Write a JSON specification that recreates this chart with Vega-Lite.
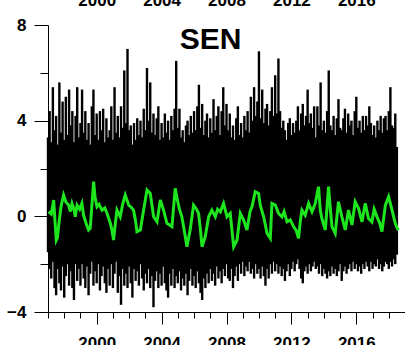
{
  "$schema": "https://vega.github.io/schema/vega-lite/v6.json",
  "width": 357,
  "height": 287,
  "autosize": {"type": "none"},
  "padding": {"left": 48, "top": 25, "right": 0, "bottom": 33},
  "background": "white",
  "config": {
    "view": {"stroke": null},
    "font": "Liberation Sans",
    "axis": {
      "labelFont": "Liberation Sans",
      "labelFontSize": 17,
      "labelFontWeight": "bold",
      "labelColor": "black",
      "domain": true,
      "ticks": true,
      "domainColor": "black",
      "domainWidth": 1,
      "tickColor": "black",
      "tickWidth": 1,
      "grid": false,
      "title": null,
      "labelOverlap": false,
      "labelFlush": false,
      "labelBound": false,
      "zindex": 1
    }
  },
  "title": {
    "text": "SEN",
    "font": "Liberation Sans",
    "fontSize": 30,
    "fontWeight": "bold",
    "color": "black",
    "anchor": "middle",
    "frame": "group",
    "dx": -16,
    "offset": -64
  },
  "datasets": {
    "daily": [
      {"t":1997.0,"hi":3.3,"lo":-1.5},{"t":1997.1,"hi":4.4,"lo":-2.2},{"t":1997.2,"hi":3.1,"lo":-2.6},{"t":1997.3,"hi":5.4,"lo":-1.9},
      {"t":1997.4,"hi":3.6,"lo":-3.0},{"t":1997.5,"hi":4.2,"lo":-3.3},{"t":1997.6,"hi":3.0,"lo":-2.2},{"t":1997.7,"hi":5.6,"lo":-2.8},
      {"t":1997.8,"hi":3.5,"lo":-3.1},{"t":1997.9,"hi":4.8,"lo":-2.1},{"t":1998.0,"hi":3.2,"lo":-3.4},{"t":1998.1,"hi":5.0,"lo":-2.5},
      {"t":1998.2,"hi":3.4,"lo":-2.0},{"t":1998.3,"hi":5.3,"lo":-2.9},{"t":1998.4,"hi":3.8,"lo":-2.3},{"t":1998.5,"hi":4.4,"lo":-3.0},
      {"t":1998.6,"hi":3.1,"lo":-3.5},{"t":1998.7,"hi":4.2,"lo":-2.0},{"t":1998.8,"hi":5.4,"lo":-2.7},{"t":1998.9,"hi":3.3,"lo":-2.2},
      {"t":1999.0,"hi":3.9,"lo":-2.9},{"t":1999.1,"hi":5.3,"lo":-2.0},{"t":1999.2,"hi":3.5,"lo":-2.6},{"t":1999.3,"hi":4.4,"lo":-3.0},
      {"t":1999.4,"hi":3.2,"lo":-2.1},{"t":1999.5,"hi":3.9,"lo":-3.3},{"t":1999.6,"hi":3.0,"lo":-2.4},{"t":1999.7,"hi":4.6,"lo":-1.9},
      {"t":1999.8,"hi":5.3,"lo":-2.9},{"t":1999.9,"hi":3.4,"lo":-2.3},{"t":2000.0,"hi":4.3,"lo":-2.8},{"t":2000.1,"hi":3.2,"lo":-2.0},
      {"t":2000.2,"hi":4.4,"lo":-3.1},{"t":2000.3,"hi":3.6,"lo":-2.5},{"t":2000.4,"hi":4.5,"lo":-2.1},{"t":2000.5,"hi":3.1,"lo":-2.8},
      {"t":2000.6,"hi":4.1,"lo":-3.2},{"t":2000.7,"hi":3.3,"lo":-2.2},{"t":2000.8,"hi":3.6,"lo":-2.9},{"t":2000.9,"hi":4.6,"lo":-2.0},
      {"t":2001.0,"hi":3.2,"lo":-3.0},{"t":2001.1,"hi":5.4,"lo":-2.4},{"t":2001.2,"hi":3.5,"lo":-1.9},{"t":2001.3,"hi":4.2,"lo":-3.2},
      {"t":2001.4,"hi":3.3,"lo":-2.5},{"t":2001.5,"hi":4.6,"lo":-3.7},{"t":2001.6,"hi":3.7,"lo":-2.2},{"t":2001.7,"hi":6.1,"lo":-2.9},
      {"t":2001.8,"hi":3.9,"lo":-2.4},{"t":2001.9,"hi":7.0,"lo":-3.0},{"t":2002.0,"hi":3.6,"lo":-2.1},{"t":2002.1,"hi":3.8,"lo":-2.8},
      {"t":2002.2,"hi":3.0,"lo":-3.4},{"t":2002.3,"hi":3.9,"lo":-2.2},{"t":2002.4,"hi":3.2,"lo":-2.7},{"t":2002.5,"hi":4.1,"lo":-2.3},
      {"t":2002.6,"hi":3.4,"lo":-2.9},{"t":2002.7,"hi":4.0,"lo":-2.0},{"t":2002.8,"hi":3.3,"lo":-2.6},{"t":2002.9,"hi":4.5,"lo":-3.1},
      {"t":2003.0,"hi":3.6,"lo":-2.4},{"t":2003.1,"hi":6.2,"lo":-2.8},{"t":2003.2,"hi":4.0,"lo":-2.2},{"t":2003.3,"hi":5.6,"lo":-3.0},
      {"t":2003.4,"hi":3.5,"lo":-2.5},{"t":2003.5,"hi":4.3,"lo":-3.8},{"t":2003.6,"hi":3.4,"lo":-2.7},{"t":2003.7,"hi":4.1,"lo":-2.3},
      {"t":2003.8,"hi":4.6,"lo":-3.0},{"t":2003.9,"hi":3.2,"lo":-2.4},{"t":2004.0,"hi":3.9,"lo":-2.9},{"t":2004.1,"hi":3.3,"lo":-2.1},
      {"t":2004.2,"hi":4.3,"lo":-2.8},{"t":2004.3,"hi":3.5,"lo":-3.1},{"t":2004.4,"hi":4.0,"lo":-3.4},{"t":2004.5,"hi":3.2,"lo":-2.4},
      {"t":2004.6,"hi":4.2,"lo":-2.9},{"t":2004.7,"hi":3.6,"lo":-2.2},{"t":2004.8,"hi":4.5,"lo":-3.0},{"t":2004.9,"hi":6.5,"lo":-2.5},
      {"t":2005.0,"hi":3.7,"lo":-2.8},{"t":2005.1,"hi":4.5,"lo":-2.3},{"t":2005.2,"hi":3.3,"lo":-3.1},{"t":2005.3,"hi":3.6,"lo":-2.6},
      {"t":2005.4,"hi":3.1,"lo":-2.9},{"t":2005.5,"hi":3.8,"lo":-2.4},{"t":2005.6,"hi":4.0,"lo":-3.3},{"t":2005.7,"hi":3.4,"lo":-2.7},
      {"t":2005.8,"hi":4.2,"lo":-2.2},{"t":2005.9,"hi":3.5,"lo":-2.9},{"t":2006.0,"hi":4.4,"lo":-2.5},{"t":2006.1,"hi":3.6,"lo":-3.0},
      {"t":2006.2,"hi":4.6,"lo":-2.3},{"t":2006.3,"hi":5.5,"lo":-2.8},{"t":2006.4,"hi":3.7,"lo":-3.2},{"t":2006.5,"hi":4.7,"lo":-3.5},
      {"t":2006.6,"hi":3.4,"lo":-2.6},{"t":2006.7,"hi":4.0,"lo":-3.0},{"t":2006.8,"hi":4.3,"lo":-2.4},{"t":2006.9,"hi":3.3,"lo":-2.8},
      {"t":2007.0,"hi":4.1,"lo":-2.2},{"t":2007.1,"hi":3.5,"lo":-2.7},{"t":2007.2,"hi":4.9,"lo":-2.4},{"t":2007.3,"hi":3.6,"lo":-2.9},
      {"t":2007.4,"hi":4.2,"lo":-2.1},{"t":2007.5,"hi":4.6,"lo":-2.6},{"t":2007.6,"hi":3.4,"lo":-2.3},{"t":2007.7,"hi":4.4,"lo":-2.8},
      {"t":2007.8,"hi":5.4,"lo":-2.2},{"t":2007.9,"hi":3.8,"lo":-2.5},{"t":2008.0,"hi":4.7,"lo":-2.0},{"t":2008.1,"hi":3.6,"lo":-2.6},
      {"t":2008.2,"hi":4.3,"lo":-2.7},{"t":2008.3,"hi":3.3,"lo":-2.2},{"t":2008.4,"hi":3.8,"lo":-3.0},{"t":2008.5,"hi":3.2,"lo":-2.5},
      {"t":2008.6,"hi":4.1,"lo":-2.1},{"t":2008.7,"hi":4.6,"lo":-2.7},{"t":2008.8,"hi":3.4,"lo":-2.0},{"t":2008.9,"hi":3.9,"lo":-2.4},
      {"t":2009.0,"hi":3.3,"lo":-1.9},{"t":2009.1,"hi":4.2,"lo":-2.5},{"t":2009.2,"hi":3.6,"lo":-2.1},{"t":2009.3,"hi":4.4,"lo":-2.3},
      {"t":2009.4,"hi":3.5,"lo":-1.9},{"t":2009.5,"hi":5.0,"lo":-2.4},{"t":2009.6,"hi":4.0,"lo":-2.2},{"t":2009.7,"hi":5.4,"lo":-2.6},
      {"t":2009.8,"hi":4.2,"lo":-2.0},{"t":2009.9,"hi":4.8,"lo":-2.4},{"t":2010.0,"hi":6.9,"lo":-2.2},{"t":2010.1,"hi":4.1,"lo":-2.6},
      {"t":2010.2,"hi":5.3,"lo":-2.1},{"t":2010.3,"hi":3.9,"lo":-2.5},{"t":2010.4,"hi":4.5,"lo":-2.9},{"t":2010.5,"hi":4.7,"lo":-2.2},
      {"t":2010.6,"hi":3.8,"lo":-2.6},{"t":2010.7,"hi":4.4,"lo":-2.0},{"t":2010.8,"hi":5.4,"lo":-2.4},{"t":2010.9,"hi":4.2,"lo":-1.9},
      {"t":2011.0,"hi":5.9,"lo":-2.3},{"t":2011.1,"hi":4.3,"lo":-2.0},{"t":2011.2,"hi":6.6,"lo":-2.4},{"t":2011.3,"hi":4.4,"lo":-2.1},
      {"t":2011.4,"hi":3.7,"lo":-2.5},{"t":2011.5,"hi":4.0,"lo":-2.2},{"t":2011.6,"hi":3.6,"lo":-2.7},{"t":2011.7,"hi":3.2,"lo":-2.3},
      {"t":2011.8,"hi":3.9,"lo":-2.0},{"t":2011.9,"hi":4.1,"lo":-2.5},{"t":2012.0,"hi":3.4,"lo":-2.2},{"t":2012.1,"hi":3.9,"lo":-1.9},
      {"t":2012.2,"hi":3.5,"lo":-2.3},{"t":2012.3,"hi":4.0,"lo":-2.0},{"t":2012.4,"hi":4.6,"lo":-1.8},{"t":2012.5,"hi":3.6,"lo":-2.2},
      {"t":2012.6,"hi":4.3,"lo":-2.6},{"t":2012.7,"hi":4.7,"lo":-2.8},{"t":2012.8,"hi":3.8,"lo":-2.3},{"t":2012.9,"hi":4.2,"lo":-2.1},
      {"t":2013.0,"hi":5.3,"lo":-2.4},{"t":2013.1,"hi":3.9,"lo":-2.0},{"t":2013.2,"hi":4.3,"lo":-2.3},{"t":2013.3,"hi":3.7,"lo":-2.1},
      {"t":2013.4,"hi":4.6,"lo":-1.9},{"t":2013.5,"hi":3.3,"lo":-2.2},{"t":2013.6,"hi":4.6,"lo":-2.1},{"t":2013.7,"hi":3.8,"lo":-2.4},
      {"t":2013.8,"hi":5.6,"lo":-2.0},{"t":2013.9,"hi":3.6,"lo":-2.5},{"t":2014.0,"hi":4.0,"lo":-2.2},{"t":2014.1,"hi":3.5,"lo":-2.4},
      {"t":2014.2,"hi":4.4,"lo":-2.6},{"t":2014.3,"hi":6.1,"lo":-2.3},{"t":2014.4,"hi":3.8,"lo":-2.5},{"t":2014.5,"hi":3.6,"lo":-2.1},
      {"t":2014.6,"hi":4.2,"lo":-2.4},{"t":2014.7,"hi":3.4,"lo":-2.2},{"t":2014.8,"hi":4.1,"lo":-2.5},{"t":2014.9,"hi":4.9,"lo":-2.3},
      {"t":2015.0,"hi":3.7,"lo":-2.0},{"t":2015.1,"hi":3.6,"lo":-2.7},{"t":2015.2,"hi":4.1,"lo":-2.3},{"t":2015.3,"hi":4.5,"lo":-2.1},
      {"t":2015.4,"hi":3.5,"lo":-2.4},{"t":2015.5,"hi":4.3,"lo":-2.2},{"t":2015.6,"hi":3.8,"lo":-2.0},{"t":2015.7,"hi":4.0,"lo":-2.3},
      {"t":2015.8,"hi":3.4,"lo":-1.9},{"t":2015.9,"hi":4.4,"lo":-2.2},{"t":2016.0,"hi":5.0,"lo":-2.0},{"t":2016.1,"hi":3.7,"lo":-2.3},
      {"t":2016.2,"hi":4.0,"lo":-2.1},{"t":2016.3,"hi":3.5,"lo":-2.4},{"t":2016.4,"hi":4.2,"lo":-2.0},{"t":2016.5,"hi":3.6,"lo":-2.2},
      {"t":2016.6,"hi":4.2,"lo":-1.9},{"t":2016.7,"hi":3.8,"lo":-2.1},{"t":2016.8,"hi":4.6,"lo":-2.3},{"t":2016.9,"hi":3.9,"lo":-1.9},
      {"t":2017.0,"hi":3.4,"lo":-2.2},{"t":2017.1,"hi":3.8,"lo":-2.0},{"t":2017.2,"hi":3.3,"lo":-2.1},{"t":2017.3,"hi":4.0,"lo":-1.8},
      {"t":2017.4,"hi":3.6,"lo":-2.2},{"t":2017.5,"hi":4.2,"lo":-2.0},{"t":2017.6,"hi":3.5,"lo":-2.3},{"t":2017.7,"hi":4.1,"lo":-2.1},
      {"t":2017.8,"hi":4.2,"lo":-1.9},{"t":2017.9,"hi":3.6,"lo":-2.0},{"t":2018.0,"hi":4.4,"lo":-2.2},{"t":2018.1,"hi":5.4,"lo":-1.9},
      {"t":2018.2,"hi":3.8,"lo":-2.1},{"t":2018.3,"hi":3.7,"lo":-1.8},{"t":2018.4,"hi":4.3,"lo":-2.0},{"t":2018.5,"hi":2.9,"lo":-1.6}
    ],
    "smooth": [
      {"t":1997.04,"v":0.2},{"t":1997.2,"v":0.1},{"t":1997.35,"v":0.68},{"t":1997.45,"v":-0.4},{"t":1997.51,"v":-1.0},
      {"t":1997.58,"v":-0.9},{"t":1997.65,"v":-0.43},{"t":1997.8,"v":0.4},{"t":1997.96,"v":0.89},{"t":1998.1,"v":0.6},
      {"t":1998.27,"v":0.47},{"t":1998.38,"v":0.2},{"t":1998.48,"v":0.54},{"t":1998.6,"v":0.3},{"t":1998.68,"v":-0.02},
      {"t":1998.79,"v":0.47},{"t":1998.95,"v":0.3},{"t":1999.09,"v":0.54},{"t":1999.19,"v":0.05},{"t":1999.35,"v":-0.3},
      {"t":1999.5,"v":-0.57},{"t":1999.6,"v":-0.5},{"t":1999.7,"v":0.4},{"t":1999.81,"v":1.45},{"t":1999.9,"v":0.8},
      {"t":2000.02,"v":0.4},{"t":2000.15,"v":0.5},{"t":2000.33,"v":0.26},{"t":2000.5,"v":0.35},{"t":2000.64,"v":0.12},
      {"t":2000.84,"v":-0.29},{"t":2000.95,"v":-0.6},{"t":2001.04,"v":-0.99},{"t":2001.15,"v":-0.3},{"t":2001.25,"v":0.26},
      {"t":2001.45,"v":-0.02},{"t":2001.6,"v":0.5},{"t":2001.76,"v":0.89},{"t":2001.97,"v":0.47},{"t":2002.1,"v":0.4},
      {"t":2002.27,"v":0.26},{"t":2002.4,"v":-0.2},{"t":2002.48,"v":-0.64},{"t":2002.69,"v":-0.57},{"t":2002.9,"v":0.3},
      {"t":2003.1,"v":1.1},{"t":2003.3,"v":0.96},{"t":2003.51,"v":-0.02},{"t":2003.72,"v":-0.23},{"t":2003.92,"v":0.68},
      {"t":2004.12,"v":0.26},{"t":2004.33,"v":-0.29},{"t":2004.64,"v":-0.43},{"t":2004.84,"v":1.17},{"t":2004.95,"v":0.75},
      {"t":2005.1,"v":0.3},{"t":2005.25,"v":-0.02},{"t":2005.45,"v":-0.8},{"t":2005.56,"v":-1.27},{"t":2005.76,"v":-0.57},
      {"t":2005.97,"v":0.47},{"t":2006.15,"v":0.3},{"t":2006.28,"v":0.12},{"t":2006.4,"v":-0.6},{"t":2006.49,"v":-1.27},
      {"t":2006.69,"v":-0.85},{"t":2006.9,"v":-0.02},{"t":2007.1,"v":0.26},{"t":2007.31,"v":-0.02},{"t":2007.45,"v":0.3},
      {"t":2007.62,"v":0.19},{"t":2007.82,"v":0.54},{"t":2008.03,"v":-0.02},{"t":2008.23,"v":0.12},{"t":2008.44,"v":-1.27},
      {"t":2008.65,"v":-0.99},{"t":2008.85,"v":0.12},{"t":2009.05,"v":-0.15},{"t":2009.26,"v":-0.57},{"t":2009.45,"v":0.2},
      {"t":2009.57,"v":0.4},{"t":2009.77,"v":1.03},{"t":2009.98,"v":0.96},{"t":2010.08,"v":0.47},{"t":2010.29,"v":-0.02},
      {"t":2010.5,"v":-0.71},{"t":2010.7,"v":-0.92},{"t":2010.8,"v":0.54},{"t":2011.01,"v":0.47},{"t":2011.21,"v":0.12},
      {"t":2011.42,"v":-0.02},{"t":2011.55,"v":0.2},{"t":2011.73,"v":-0.23},{"t":2011.93,"v":-0.15},{"t":2012.13,"v":-0.43},
      {"t":2012.3,"v":-0.6},{"t":2012.44,"v":-0.92},{"t":2012.55,"v":-0.2},{"t":2012.65,"v":0.26},{"t":2012.85,"v":0.05},
      {"t":2013.06,"v":0.54},{"t":2013.27,"v":0.19},{"t":2013.47,"v":0.54},{"t":2013.67,"v":1.24},{"t":2013.78,"v":0.26},
      {"t":2013.88,"v":-0.1},{"t":2014.09,"v":-0.57},{"t":2014.29,"v":1.24},{"t":2014.4,"v":0.3},{"t":2014.5,"v":-0.43},
      {"t":2014.7,"v":-0.71},{"t":2014.9,"v":0.61},{"t":2015.11,"v":-0.02},{"t":2015.32,"v":-0.57},{"t":2015.52,"v":0.26},
      {"t":2015.73,"v":-0.36},{"t":2015.93,"v":0.61},{"t":2016.14,"v":0.33},{"t":2016.35,"v":-0.23},{"t":2016.55,"v":0.54},
      {"t":2016.75,"v":-0.09},{"t":2016.96,"v":-0.23},{"t":2017.1,"v":0.3},{"t":2017.27,"v":-0.02},{"t":2017.45,"v":-0.3},
      {"t":2017.58,"v":-0.64},{"t":2017.79,"v":0.47},{"t":2017.99,"v":0.82},{"t":2018.2,"v":0.26},{"t":2018.4,"v":-0.29},
      {"t":2018.52,"v":-0.5},{"t":2018.61,"v":-0.57}
    ]
  },
  "layer": [
    {
      "data": {"name": "daily"},
      "mark": {"type": "rule", "color": "black", "strokeWidth": 2.4},
      "encoding": {
        "x": {
          "field": "t",
          "type": "quantitative",
          "scale": {"domain": [1997, 2019], "nice": false, "zero": false},
          "axis": {
            "orient": "bottom",
            "values": [1997,1998,1999,2000,2001,2002,2003,2004,2005,2006,2007,2008,2009,2010,2011,2012,2013,2014,2015,2016,2017,2018,2019],
            "format": "d",
            "labelExpr": "datum.value % 4 === 0 ? datum.label : ''",
            "tickSize": {"condition": {"test": "datum.value % 4 === 0", "value": 12}, "value": 6},
            "labelPadding": 11
          }
        },
        "y": {
          "field": "lo",
          "type": "quantitative",
          "scale": {"domain": [-4, 8], "nice": false, "zero": false},
          "axis": {
            "orient": "left",
            "values": [-4, 0, 4, 8],
            "tickSize": 14,
            "labelPadding": 8
          }
        },
        "y2": {"field": "hi"}
      }
    },
    {
      "data": {"name": "smooth"},
      "mark": {"type": "line", "color": "#1ee61e", "strokeWidth": 3},
      "encoding": {
        "x": {
          "field": "t",
          "type": "quantitative",
          "axis": {
            "orient": "top",
            "values": [2000, 2004, 2008, 2012, 2016],
            "format": "d",
            "domain": false,
            "ticks": false,
            "labelPadding": 16
          }
        },
        "y": {
          "field": "v",
          "type": "quantitative",
          "axis": {
            "orient": "left",
            "values": [-2, 2, 6],
            "tickSize": 8,
            "labels": false,
            "domain": false
          }
        }
      }
    }
  ],
  "resolve": {"axis": {"x": "independent", "y": "independent"}}
}
